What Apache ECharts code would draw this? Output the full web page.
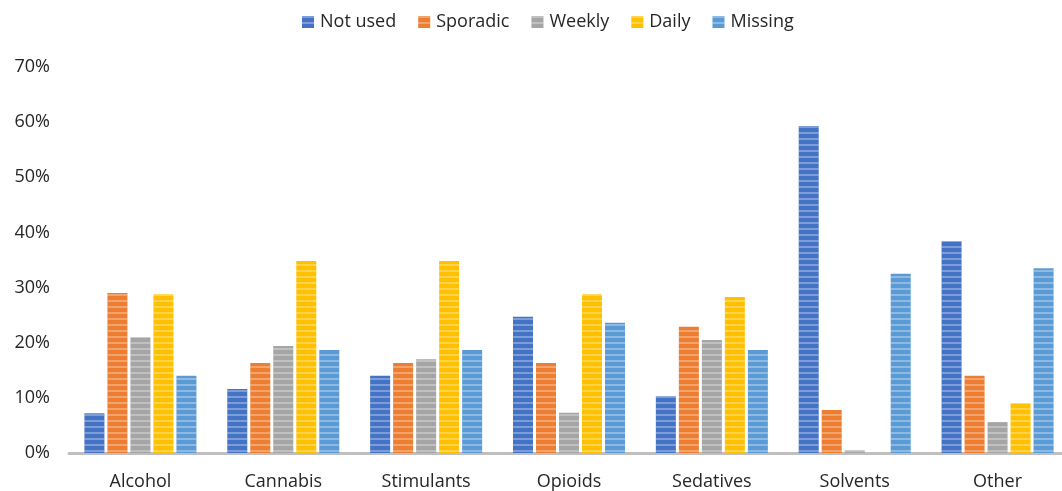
<!DOCTYPE html>
<html><head><meta charset="utf-8">
<script src="https://cdn.jsdelivr.net/npm/echarts@6/dist/echarts.min.js"></script>
<style>html,body{margin:0;padding:0;background:#fff;overflow:hidden}#c{width:1069px;height:491px}</style>
</head><body><div id="c"></div>
<script>
const categories = ['Alcohol','Cannabis','Stimulants','Opioids','Sedatives','Solvents','Other'];
const notUsed  = [7.2, 11.6, 14.0, 24.7, 10.3, 59.3, 38.4];
const sporadic = [29.0, 16.3, 16.3, 16.3, 22.9, 7.8, 14.0];
const weekly   = [21.0, 19.4, 17.0, 7.3, 20.5, 0.5, 5.6];
const daily    = [28.8, 34.8, 34.8, 28.8, 28.3, 0, 9.0];
const missing  = [14.0, 18.7, 18.7, 23.6, 18.7, 32.5, 33.5];
const seriesNames = ['Not used','Sporadic','Weekly','Daily','Missing'];
const colors = ['#4472C4','#ED7D31','#A5A5A5','#FFC000','#5B9BD5'];
const data = [notUsed, sporadic, weekly, daily, missing];
const font = 'Open Sans';
const chart = echarts.init(document.getElementById('c'));
chart.setOption({
  animation:false,
  legend:{top:8,left:297,itemWidth:12,itemHeight:12,itemGap:22,icon:'rect',
    textStyle:{fontFamily:font,fontSize:18,color:'#262626',padding:[0,0,0,1]}},
  grid:{left:69,right:0,top:67,bottom:38},
  xAxis:{type:'category',data:categories,
    axisLine:{lineStyle:{color:'#BFBFBF',width:3}},axisTick:{show:false},
    axisLabel:{fontFamily:font,fontSize:18,color:'#262626',margin:20}},
  yAxis:{type:'value',min:0,max:70,interval:10,
    axisLabel:{formatter:'{value}%',fontFamily:font,fontSize:18,color:'#262626',margin:19},
    splitLine:{show:false},axisLine:{show:false},axisTick:{show:false}},
  series: data.map((d,i)=>({name:seriesNames[i],type:'bar',data:d,
    barWidth:20,barGap:'15%',
    itemStyle:{color:colors[i],decal:{symbol:'rect',symbolSize:1,dashArrayX:[1,0],dashArrayY:[2,4],rotation:0,color:'rgba(255,255,255,0.3)'}}}))
});
</script></body></html>
